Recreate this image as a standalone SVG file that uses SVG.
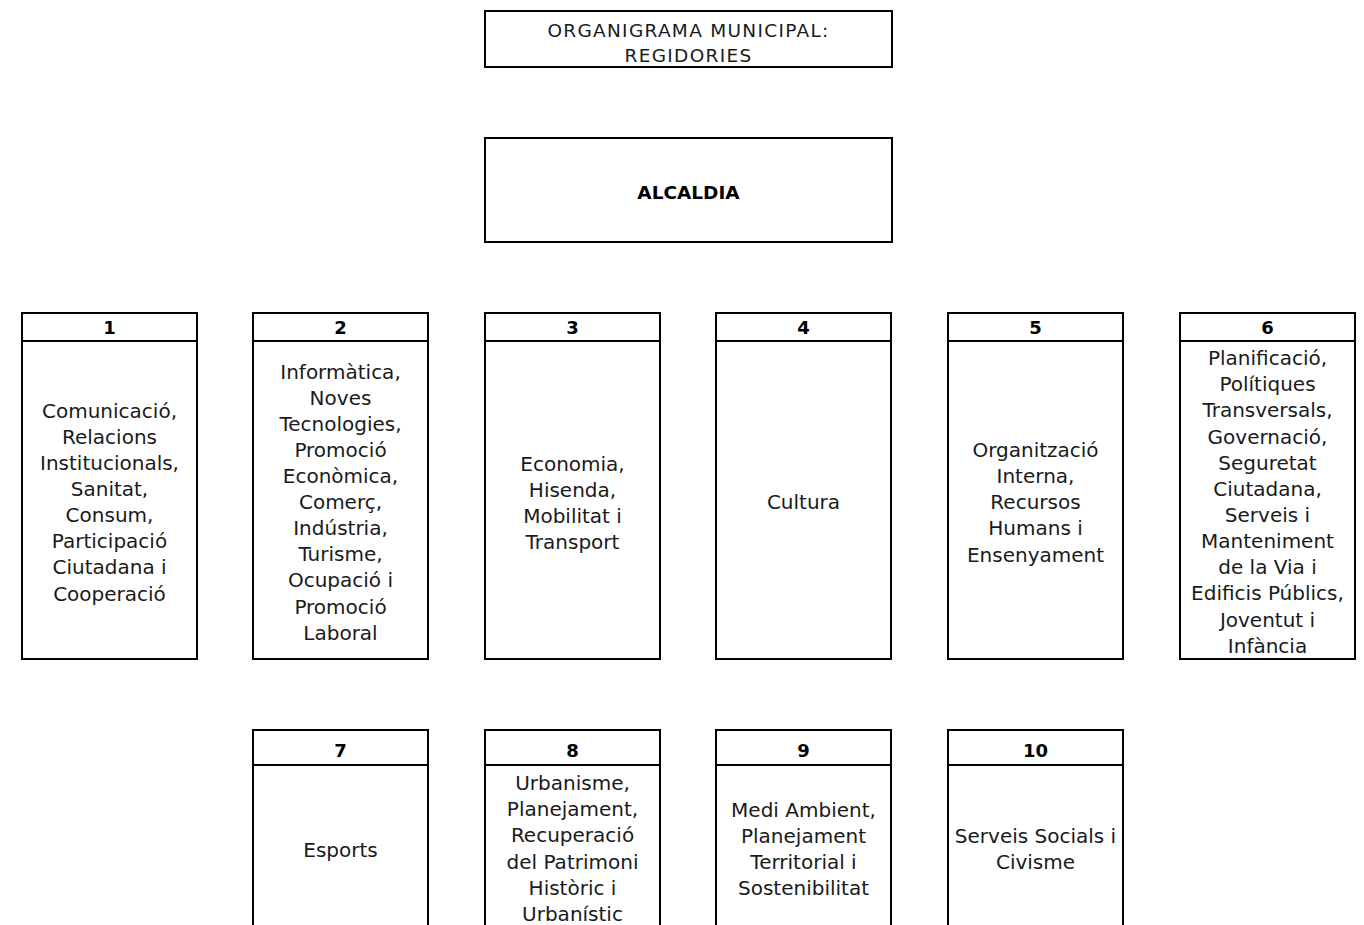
<svg xmlns="http://www.w3.org/2000/svg" width="1364" height="925" viewBox="0 0 1364 925">
<style>
rect{fill:#fff;stroke:#000;stroke-width:2}
line{stroke:#000;stroke-width:2}
text{font-family:"DejaVu Sans","Liberation Sans",sans-serif;fill:#1a1a1a;text-anchor:middle}
.b{font-size:20px}
.h{font-size:18px;font-weight:bold;fill:#000}
.a{font-size:18.5px;font-weight:bold;fill:#000}
.t{font-size:18.5px;letter-spacing:1.3px}
</style>
<g id="title">
<rect x="485" y="11" width="407" height="56"/>
<text class="t" x="688.5" y="37">ORGANIGRAMA MUNICIPAL:</text>
<text class="t" x="688.5" y="62">REGIDORIES</text>
</g>
<g id="alcaldia">
<rect x="485" y="138" width="407" height="104"/>
<text class="a" x="688.5" y="199">ALCALDIA</text>
</g>
<g id="connectors"></g>
<g id="r1">
<rect x="22" y="313" width="175" height="346"/><line x1="22" y1="341" x2="197" y2="341"/>
<text class="h" x="109.5" y="334">1</text>
<text class="b" x="109.5" y="418">Comunicació,</text>
<text class="b" x="109.5" y="444">Relacions</text>
<text class="b" x="109.5" y="470">Institucionals,</text>
<text class="b" x="109.5" y="496">Sanitat,</text>
<text class="b" x="109.5" y="522">Consum,</text>
<text class="b" x="109.5" y="548">Participació</text>
<text class="b" x="109.5" y="574">Ciutadana i</text>
<text class="b" x="109.5" y="601">Cooperació</text>
</g>
<g id="r2">
<rect x="253" y="313" width="175" height="346"/><line x1="253" y1="341" x2="428" y2="341"/>
<text class="h" x="340.5" y="334">2</text>
<text class="b" x="340.5" y="379">Informàtica,</text>
<text class="b" x="340.5" y="405">Noves</text>
<text class="b" x="340.5" y="431">Tecnologies,</text>
<text class="b" x="340.5" y="457">Promoció</text>
<text class="b" x="340.5" y="483">Econòmica,</text>
<text class="b" x="340.5" y="509">Comerç,</text>
<text class="b" x="340.5" y="535">Indústria,</text>
<text class="b" x="340.5" y="561">Turisme,</text>
<text class="b" x="340.5" y="587">Ocupació i</text>
<text class="b" x="340.5" y="614">Promoció</text>
<text class="b" x="340.5" y="640">Laboral</text>
</g>
<g id="r3">
<rect x="485" y="313" width="175" height="346"/><line x1="485" y1="341" x2="660" y2="341"/>
<text class="h" x="572.5" y="334">3</text>
<text class="b" x="572.5" y="471">Economia,</text>
<text class="b" x="572.5" y="497">Hisenda,</text>
<text class="b" x="572.5" y="523">Mobilitat i</text>
<text class="b" x="572.5" y="549">Transport</text>
</g>
<g id="r4">
<rect x="716" y="313" width="175" height="346"/><line x1="716" y1="341" x2="891" y2="341"/>
<text class="h" x="803.5" y="334">4</text>
<text class="b" x="803.5" y="509">Cultura</text>
</g>
<g id="r5">
<rect x="948" y="313" width="175" height="346"/><line x1="948" y1="341" x2="1123" y2="341"/>
<text class="h" x="1035.5" y="334">5</text>
<text class="b" x="1035.5" y="457">Organització</text>
<text class="b" x="1035.5" y="483">Interna,</text>
<text class="b" x="1035.5" y="509">Recursos</text>
<text class="b" x="1035.5" y="535">Humans i</text>
<text class="b" x="1035.5" y="562">Ensenyament</text>
</g>
<g id="r6">
<rect x="1180" y="313" width="175" height="346"/><line x1="1180" y1="341" x2="1355" y2="341"/>
<text class="h" x="1267.5" y="334">6</text>
<text class="b" x="1267.5" y="365">Planificació,</text>
<text class="b" x="1267.5" y="391">Polítiques</text>
<text class="b" x="1267.5" y="417">Transversals,</text>
<text class="b" x="1267.5" y="444">Governació,</text>
<text class="b" x="1267.5" y="470">Seguretat</text>
<text class="b" x="1267.5" y="496">Ciutadana,</text>
<text class="b" x="1267.5" y="522">Serveis i</text>
<text class="b" x="1267.5" y="548">Manteniment</text>
<text class="b" x="1267.5" y="574">de la Via i</text>
<text class="b" x="1267.5" y="600">Edificis Públics,</text>
<text class="b" x="1267.5" y="627">Joventut i</text>
<text class="b" x="1267.5" y="653">Infància</text>
</g>
<g id="r7">
<rect x="253" y="730" width="175" height="260"/><line x1="253" y1="765" x2="428" y2="765"/>
<text class="h" x="340.5" y="757">7</text>
<text class="b" x="340.5" y="857">Esports</text>
</g>
<g id="r8">
<rect x="485" y="730" width="175" height="260"/><line x1="485" y1="765" x2="660" y2="765"/>
<text class="h" x="572.5" y="757">8</text>
<text class="b" x="572.5" y="790">Urbanisme,</text>
<text class="b" x="572.5" y="816">Planejament,</text>
<text class="b" x="572.5" y="842">Recuperació</text>
<text class="b" x="572.5" y="869">del Patrimoni</text>
<text class="b" x="572.5" y="895">Històric i</text>
<text class="b" x="572.5" y="921">Urbanístic</text>
</g>
<g id="r9">
<rect x="716" y="730" width="175" height="260"/><line x1="716" y1="765" x2="891" y2="765"/>
<text class="h" x="803.5" y="757">9</text>
<text class="b" x="803.5" y="817">Medi Ambient,</text>
<text class="b" x="803.5" y="843">Planejament</text>
<text class="b" x="803.5" y="869">Territorial i</text>
<text class="b" x="803.5" y="895">Sostenibilitat</text>
</g>
<g id="r10">
<rect x="948" y="730" width="175" height="260"/><line x1="948" y1="765" x2="1123" y2="765"/>
<text class="h" x="1035.5" y="757">10</text>
<text class="b" x="1035.5" y="843">Serveis Socials i</text>
<text class="b" x="1035.5" y="869">Civisme</text>
</g>
</svg>
